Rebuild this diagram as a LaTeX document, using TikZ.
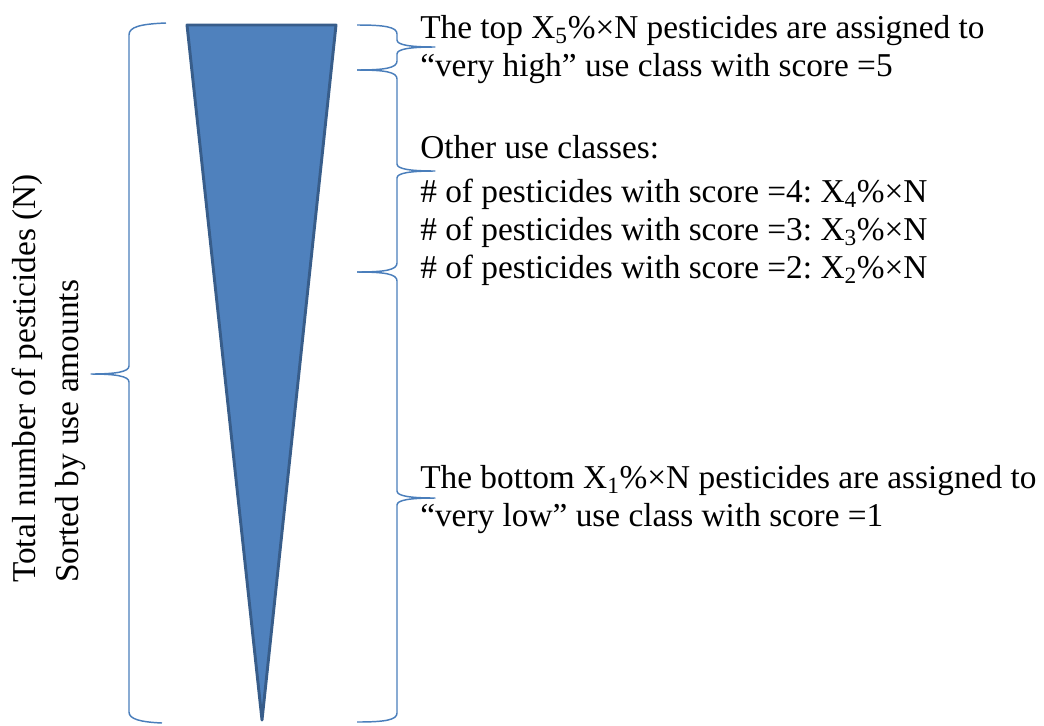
\documentclass[tikz,border=0pt]{standalone}
\usepackage{fontspec}
\setmainfont{Liberation Serif}
\usetikzlibrary{positioning}
\definecolor{wedgec}{HTML}{4F81BD}
\definecolor{wedgeln}{HTML}{385D8A}
\definecolor{bracec}{HTML}{4A7EBB}
\frenchspacing
\tikzset{
  brc/.style={draw=bracec, line width=1.1pt, line join=round},
  lbl/.style={font=\fontsize{25}{28.5}\selectfont, align=left, inner sep=0pt, anchor=north west},
}

\begin{document}
\begin{tikzpicture}[x=0.75pt, y=-0.75pt]
  \useasboundingbox (0,0) rectangle (1044,725);

  % pesticides sorted by use amount
  \filldraw[fill=wedgec, draw=wedgeln, line width=2.2pt, line join=round] (187,25) -- (336,25) -- (262,720) -- cycle;

  % brace over all pesticides
  \draw[brc] (166,23) .. controls (140,24) and (129,27) .. (129,35) -- (129,366)
    .. controls (129,372) and (115,374) .. (91,374) .. controls (115,374) and (129,376) .. (129,382)
    -- (129,712) .. controls (129,719) and (140,722) .. (162,723);

  % braces for the use classes
  \foreach \ya/\yt/\yb in {25/47/70, 70/171/272, 272/498/722}
    \draw[brc] (357,\ya) .. controls (385,\ya) and (397,\ya+2) .. (397,\ya+9) -- (397,\yt-7)
      .. controls (397,\yt-2) and (410,\yt) .. (435,\yt) .. controls (410,\yt) and (397,\yt+2) .. (397,\yt+7)
      -- (397,\yb-9) .. controls (397,\yb-2) and (385,\yb) .. (357,\yb);

  % labels
  \node[lbl] (top) at (420,15) {The top X\textsubscript{5}\%×N pesticides are assigned to\\``very high'' use class with score =5};
  \node[lbl] (other) at (420,135) {Other use classes:\\[4.5pt]
    \# of pesticides with score =4: X\textsubscript{4}\%×N\\
    \# of pesticides with score =3: X\textsubscript{3}\%×N\\
    \# of pesticides with score =2: X\textsubscript{2}\%×N};
  \node[lbl] (bottom) at (420,465) {The bottom X\textsubscript{1}\%×N pesticides are assigned to\\``very low'' use class with score =1};
  \node[lbl, font=\fontsize{25}{32.25}\selectfont, rotate=90] (total) at (12,583) {Total number of pesticides (N)\\Sorted by use amounts};
\end{tikzpicture}
\end{document}
